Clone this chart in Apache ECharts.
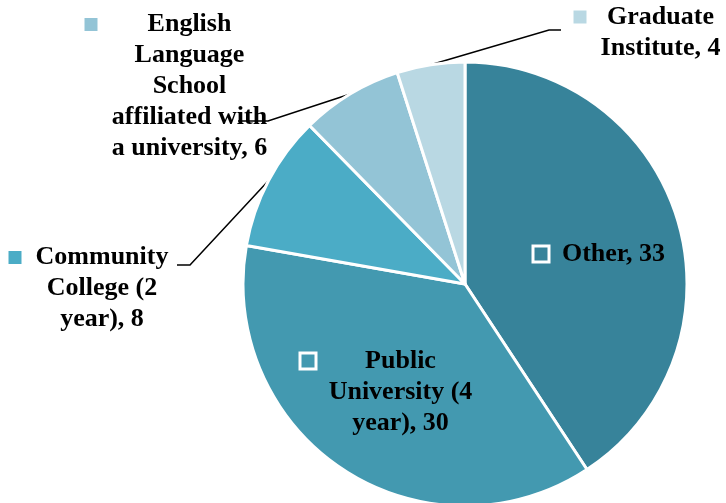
<!DOCTYPE html>
<html><head><meta charset="utf-8">
<script src="https://cdn.jsdelivr.net/npm/echarts@6/dist/echarts.min.js"></script>
<style>html,body{margin:0;padding:0;background:#fff}#c{width:726px;height:503px}</style>
</head><body><div id="c"></div>
<script>
// ---- data ----
const categories = ["Other", "Public University (4 year)", "Community College (2 year)", "English Language School affiliated with a university", "Graduate Institute"];
const values = [33, 30, 8, 6, 4];
const colors = ["#37839A", "#4399B0", "#4BACC6", "#93C4D6", "#B9D8E3"];

// ---- layout (label placement, not data) ----
const wrapWidth = [220, 150, 140, 165, 125];
const labelPos = [[534.5, 238.5], [301.5, 345.5], [8.5, 242], [84.5, 9], [573.5, 1.5]];
const linePts = [null, null, [[190, 265], [177, 265]], [[268, 121], [238, 121]], [[549, 30], [561, 30]]];
const inside = [true, true, false, false, false];

const FONT_FAMILY = '"Liberation Serif","Times New Roman",serif';
const FONT_SIZE = 26, LINE_H = 31, MARK = 13, GAP = 13;
const ctx = document.createElement('canvas').getContext('2d');
ctx.font = 'bold ' + FONT_SIZE + 'px ' + FONT_FAMILY;

function wrap(text, maxW) {
  const words = text.split(' ');
  const lines = [];
  let cur = '';
  words.forEach(w => {
    const t = cur ? cur + ' ' + w : w;
    if (cur && ctx.measureText(t).width > maxW) { lines.push(cur); cur = w; }
    else cur = t;
  });
  if (cur) lines.push(cur);
  return lines;
}

const data = categories.map((name, i) => {
  const lines = wrap(name + ', ' + values[i], wrapWidth[i]);
  const W = Math.ceil(Math.max(...lines.map(l => ctx.measureText(l).width))) + 2;
  const str = lines.map((l, j) => (j === 0 ? '{m|}{g|}' : '{s|}') + '{t|' + l + '}').join('\n');
  return {
    name: name,
    value: values[i],
    itemStyle: { color: colors[i] },
    label: {
      position: inside[i] ? 'inside' : 'outside',
      formatter: str,
      rich: {
        m: { width: MARK, height: MARK, backgroundColor: colors[i], borderColor: '#fff', borderWidth: 3, lineHeight: LINE_H },
        g: { width: GAP, lineHeight: LINE_H },
        s: { width: MARK + GAP, lineHeight: LINE_H },
        t: { width: W, align: 'center', fontFamily: FONT_FAMILY, fontWeight: 'bold', fontSize: FONT_SIZE, color: '#000', lineHeight: LINE_H }
      }
    },
    labelLine: { show: !inside[i] }
  };
});

const chart = echarts.init(document.getElementById('c'), null, { renderer: 'canvas' });
chart.setOption({
  backgroundColor: '#fff',
  animation: false,
  series: [{
    type: 'pie',
    center: [465, 284],
    radius: 222,
    startAngle: 90,
    clockwise: true,
    avoidLabelOverlap: false,
    itemStyle: { borderColor: '#fff', borderWidth: 3 },
    label: { show: true, color: '#000' },
    labelLine: { show: true, length: 20, length2: 10, smooth: false, lineStyle: { color: '#000', width: 1.5 } },
    emphasis: { disabled: true },
    labelLayout: function (p) {
      const i = p.dataIndex;
      const res = { x: labelPos[i][0], y: labelPos[i][1], align: 'left', verticalAlign: 'top', hideOverlap: false };
      if (linePts[i] && p.labelLinePoints) {
        res.labelLinePoints = [p.labelLinePoints[0], linePts[i][0], linePts[i][1]];
      }
      return res;
    },
    data: data
  }]
});
</script>
</body></html>
